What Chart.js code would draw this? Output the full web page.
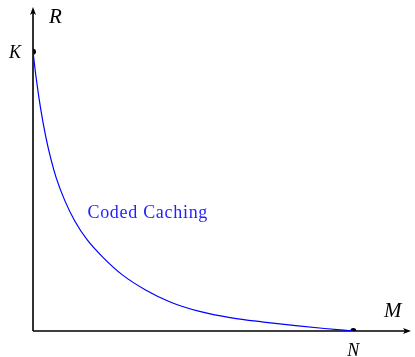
<!DOCTYPE html>
<html>
<head>
<meta charset="utf-8">
<script src="https://cdn.jsdelivr.net/npm/chart.js@4.4.0/dist/chart.umd.min.js"></script>
<style>
  html, body { margin: 0; padding: 0; background: #fff; }
  #box { width: 415px; height: 357px; }
</style>
</head>
<body>
<div id="box"><canvas id="grafico_cache"></canvas></div>
<script>
// valores (N = 10, K = 10)
var memoria = [0, 0.1, 0.24, 0.4, 0.56, 0.72, 1.0, 1.3, 1.7, 2.2, 2.8, 3.5, 4.3, 5.2, 6.2, 7.2, 8.2, 9.1, 10];
var taxa = [10, 9.05, 7.95, 6.95, 6.15, 5.5, 4.65, 3.95, 3.25, 2.62, 2.0, 1.48, 1.03, 0.70, 0.47, 0.32, 0.19, 0.09, 0];

var pontosX = [0, 10];
var pontosY = [10, 0];
var rotulosPontos = ["K", "N"];
var rotulosEixos = ["M", "R"];
var nomeCurva = "Coded Caching";

var curva = [];
for (var i = 0; i < memoria.length; i++) {
    curva.push({ x: memoria[i], y: taxa[i] });
}
var pontos = [];
for (var j = 0; j < pontosX.length; j++) {
    pontos.push({ x: pontosX[j], y: pontosY[j] });
}

// desenha eixos com setas e os textos
var eixosPlugin = {
    id: 'eixos',
    beforeDatasetsDraw: function(chart) {
        var ctx = chart.ctx;
        var sx = chart.scales.x;
        var sy = chart.scales.y;
        var x0 = sx.getPixelForValue(0);
        var y0 = sy.getPixelForValue(0);
        var xFim = sx.getPixelForValue(sx.max);
        var yFim = sy.getPixelForValue(sy.max);

        ctx.save();
        ctx.strokeStyle = '#000';
        ctx.fillStyle = '#000';
        ctx.lineWidth = 1.6;
        ctx.beginPath();
        ctx.moveTo(x0, y0);
        ctx.lineTo(xFim - 5, y0);
        ctx.moveTo(x0, y0);
        ctx.lineTo(x0, yFim + 5);
        ctx.stroke();

        // setas
        ctx.beginPath();
        ctx.moveTo(xFim, y0);
        ctx.lineTo(xFim - 8, y0 - 3);
        ctx.lineTo(xFim - 6, y0);
        ctx.lineTo(xFim - 8, y0 + 3);
        ctx.closePath();
        ctx.fill();
        ctx.beginPath();
        ctx.moveTo(x0, yFim);
        ctx.lineTo(x0 - 3, yFim + 8);
        ctx.lineTo(x0, yFim + 6);
        ctx.lineTo(x0 + 3, yFim + 8);
        ctx.closePath();
        ctx.fill();

        // nomes dos eixos
        ctx.font = 'italic 21px "Liberation Serif"';
        ctx.textBaseline = 'alphabetic';
        ctx.textAlign = 'left';
        ctx.fillText(rotulosEixos[1], x0 + 16, yFim + 16);
        ctx.fillText(rotulosEixos[0], xFim - 27, y0 - 14);

        // K e N
        ctx.font = 'italic 18px "Liberation Serif"';
        ctx.textAlign = 'center';
        ctx.fillText(rotulosPontos[0], x0 - 18, sy.getPixelForValue(pontosY[0]) + 6);
        ctx.fillText(rotulosPontos[1], sx.getPixelForValue(pontosX[1]), y0 + 25);

        // nome da curva
        ctx.fillStyle = '#1f1fff';
        ctx.font = '18px "Liberation Serif"';
        ctx.letterSpacing = '0.7px';
        ctx.textAlign = 'left';
        ctx.fillText(nomeCurva, sx.getPixelForValue(1.70), sy.getPixelForValue(4.05));
        ctx.restore();
    }
};

var contextoGrafico = document.getElementById('grafico_cache').getContext('2d');

var grafico = new Chart(contextoGrafico, {
    type: 'scatter',
    data: {
        datasets: [{
            label: nomeCurva,
            data: curva,
            showLine: true,
            borderColor: '#0000ff',
            borderWidth: 1.2,
            pointRadius: 0,
            cubicInterpolationMode: 'monotone',
            fill: false
        }, {
            label: "pontos",
            data: pontos,
            showLine: false,
            pointRadius: 3,
            pointBackgroundColor: '#000',
            pointBorderWidth: 0
        }]
    },
    options: {
        responsive: true,
        maintainAspectRatio: false,
        animation: false,
        layout: { padding: { left: 33, right: 1, top: 7, bottom: 26 } },
        plugins: {
            legend: { display: false },
            tooltip: { enabled: false }
        },
        scales: {
            x: { type: 'linear', min: 0, max: 11.8, display: false },
            y: { type: 'linear', min: 0, max: 11.6, display: false }
        }
    },
    plugins: [eixosPlugin]
});
</script>
</body>
</html>
